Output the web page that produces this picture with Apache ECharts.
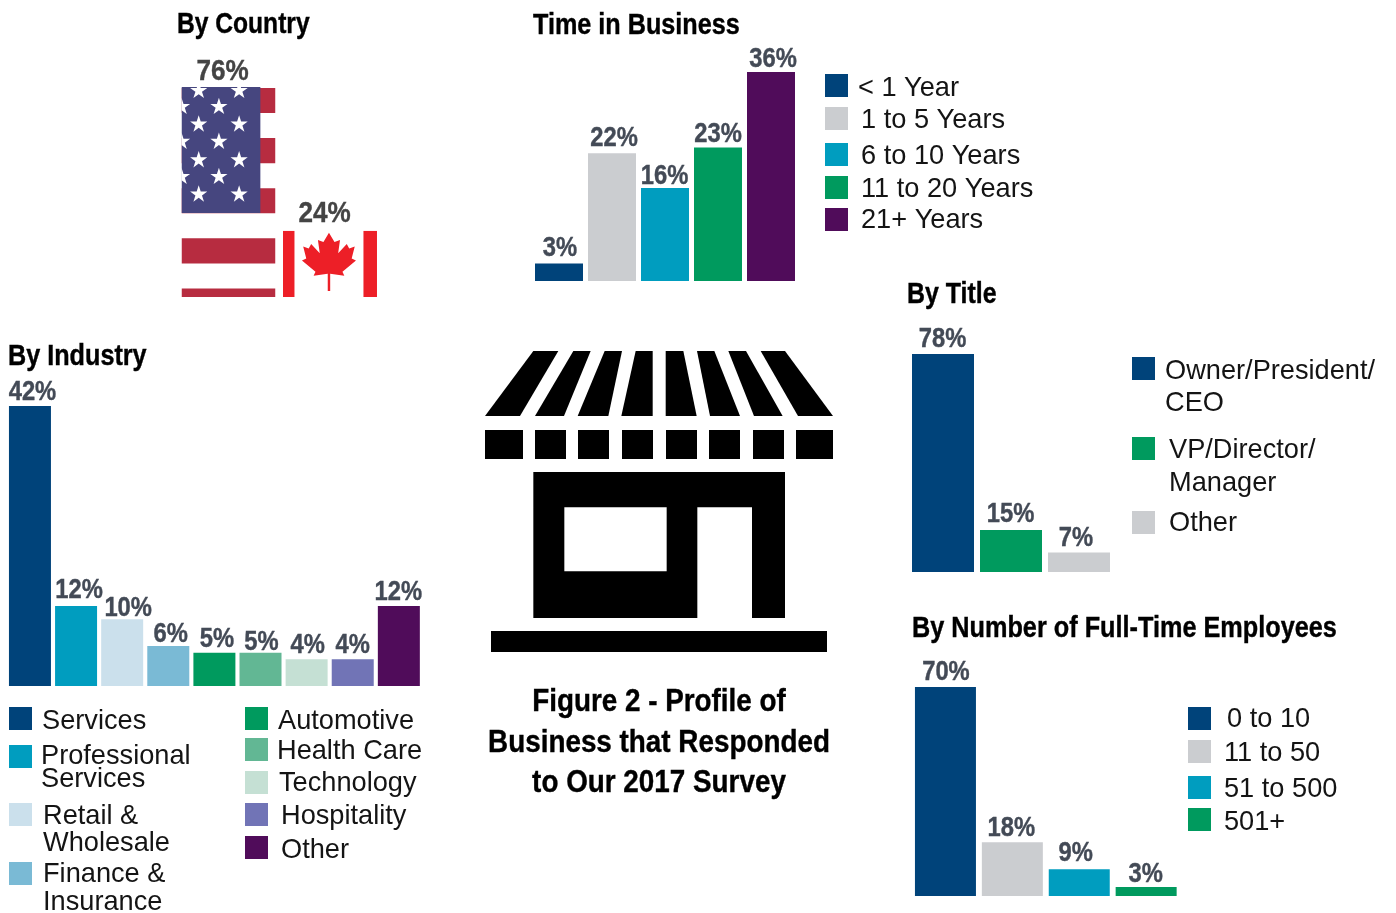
<!DOCTYPE html>
<html>
<head>
<meta charset="utf-8">
<title>Figure 2 - Profile of Business that Responded to Our 2017 Survey</title>
<style>
  html, body { margin: 0; padding: 0; background: #fff; }
  #chart { width: 1396px; height: 913px; }
</style>
<script src="https://cdn.jsdelivr.net/npm/echarts@6/dist/echarts.min.js"></script>
</head>
<body>
<div id="chart"></div>
<script>
const countryNames = ["United States", "Canada"];
const countryValues = [76, 24];

const timeNames = ["< 1 Year", "1 to 5 Years", "6 to 10 Years", "11 to 20 Years", "21+ Years"];
const timeValues = [3, 22, 16, 23, 36];

const industryNames = ["Services", "Professional\nServices", "Retail &\nWholesale", "Finance &\nInsurance",
  "Automotive", "Health Care", "Technology", "Hospitality", "Other"];
const industryValues = [42, 12, 10, 6, 5, 5, 4, 4, 12];

const titleNames = ["Owner/President/\nCEO", "VP/Director/\nManager", "Other"];
const titleValues = [78, 15, 7];

const employeeNames = ["0 to 10", "11 to 50", "51 to 500", "501+"];
const employeeValues = [70, 18, 9, 3];

const NAVY = "#00437a", TEAL = "#009dbf", GRAY = "#cbcdd0", GREEN = "#009a5e", PURPLE = "#500c5a";
const timeColors = [NAVY, GRAY, TEAL, GREEN, PURPLE];
const industryColors = [NAVY, TEAL, "#cbe0ec", "#7abad5", GREEN, "#62b794", "#c5e0d4", "#7174b6", PURPLE];
const titleColors = [NAVY, GREEN, GRAY];
const employeeColors = [NAVY, GRAY, TEAL, GREEN];

const SANS = '"Liberation Sans", Arial, sans-serif';
const LEGEND_FONT = "27.2px " + SANS;

// the labels in the source are placed by hand: dx from bar centre, dy from bar top
const countryNudge = [[-6, -15], [-5.5, -17]];
const timeNudge = [[1, -15], [2, -15], [-0.5, -12], [0, -13], [2, -12]];
const industryNudge = [[2.5, -13], [3, -15], [6, -11], [2.5, -11], [2.5, -13.6], [1, -10.6], [1, -14], [0, -14], [-0.5, -13]];
const titleNudge = [[-0.5, -14], [-0.5, -16], [-3, -14]];
const employeeNudge = [[0.5, -14], [-1, -14], [-3.5, -16], [-0.5, -12]];

// swatch x, swatch y, text x, text y (first line centre), line height
const timeLegend = [[825, 74, 858, 89], [825, 107, 861, 121], [825, 143, 861, 157], [825, 176, 861, 190], [825, 208, 861, 221]];
const industryLegend = [[9, 707, 42, 722], [9, 745, 41, 757, 23], [9, 803, 43, 817, 27], [9, 862, 43, 875, 28],
  [245, 707, 278, 722], [245, 738, 277, 752], [245, 771, 279, 784], [245, 803, 281, 817], [245, 836, 281, 851]];
const titleLegend = [[1132, 357, 1165, 372, 32], [1132, 437, 1169, 451, 33], [1132, 511, 1169, 524]];
const employeeLegend = [[1188, 707, 1227, 720], [1188, 740, 1224, 754], [1188, 776, 1224, 790], [1188, 808, 1224, 823]];

const grids = [
  { left: 177.75, width: 203, top: 87, height: 210 },
  { left: 532.5, width: 265, top: 72, height: 209 },
  { left: 6.9, width: 415, top: 406, height: 280 },
  { left: 909, width: 204, top: 354, height: 218 },
  { left: 912, width: 267.6, top: 687, height: 209 },
];
const xNames = [countryNames, timeNames, industryNames, titleNames, employeeNames];
const yMax = [76, 36, 42, 78, 70];

const barSeries = (axis, names, values, colors, barWidth) => ({
  type: "bar",
  xAxisIndex: axis,
  yAxisIndex: axis,
  barWidth,
  data: values.map((v, i) => ({ value: v, name: names[i], itemStyle: { color: colors[i] } })),
});

// no condensed bold is installed, so the value labels are squeezed text
const labelSeries = (axis, values, nudge, size, squeeze, color) => ({
  type: "custom",
  xAxisIndex: axis,
  yAxisIndex: axis,
  data: values.map((v, i) => [i, v]),
  encode: { x: 0, y: 1 },
  z: 5,
  renderItem: (params, api) => {
    const i = api.value(0);
    const p = api.coord([i, api.value(1)]);
    return {
      type: "text",
      x: p[0] + nudge[i][0],
      y: p[1] + nudge[i][1],
      scaleX: squeeze,
      style: {
        text: api.value(1) + "%",
        textAlign: "center",
        verticalAlign: "middle",
        fill: color,
        stroke: color,
        lineWidth: 0.4,
        font: "bold " + size + "px " + SANS,
      },
    };
  },
});

const starPoints = (cx, cy, r) => {
  const pts = [];
  for (let i = 0; i < 10; i++) {
    const rad = i % 2 ? r * 0.382 : r;
    const a = -Math.PI / 2 + (i * Math.PI) / 5;
    pts.push([cx + rad * Math.cos(a), cy + rad * Math.sin(a)]);
  }
  return pts;
};

const usFlag = (x, y, w, h) => {
  const kids = [{ type: "rect", shape: { x, y, width: w, height: h }, style: { fill: "#fff" } }];
  const stripe = h / 8.38;
  for (let i = 0; i < 5; i++) {
    kids.push({
      type: "rect",
      shape: { x, y: y + (i * 2 * stripe) + 1, width: w, height: stripe },
      style: { fill: "#b72c40" },
    });
  }
  const cantonW = w * 0.839, cantonH = h * 0.6;
  kids.push({ type: "rect", shape: { x, y, width: cantonW, height: cantonH }, style: { fill: "#46467f" } });
  const r = h * 0.043;
  [-0.02, 0.056, 0.14, 0.222, 0.31, 0.389, 0.473].forEach((fy, row) => {
    const cols = row % 2 ? [0, 0.398] : [0.183, 0.613];
    cols.forEach((fx) => {
      kids.push({ type: "polygon", shape: { points: starPoints(x + fx * w, y + fy * h + 8, r) }, style: { fill: "#fff" } });
    });
  });
  return kids;
};

// maple leaf outline, as fractions of the flag box
const leaf = [[.5, .03], [.59, .17], [.68, .14], [.65, .34], [.79, .2], [.83, .27], [.92, .24], [.87, .42], [.94, .45],
  [.72, .62], [.75, .68], [.52, .65], [.52, .91], [.48, .91], [.48, .65], [.25, .68], [.28, .62], [.06, .45], [.13, .42],
  [.08, .24], [.17, .27], [.21, .2], [.35, .34], [.32, .14], [.41, .17]];

const canadaFlag = (x, y, w, h) => [
  { type: "rect", shape: { x, y, width: w, height: h }, style: { fill: "#fff" } },
  { type: "rect", shape: { x, y, width: w * 0.122, height: h }, style: { fill: "#ed1f27" } },
  { type: "rect", shape: { x: x + w * 0.856, y, width: w * 0.144, height: h }, style: { fill: "#ed1f27" } },
  {
    type: "polygon",
    shape: { points: leaf.map((p) => [x + w * (0.1625 + p[0] * 0.653), y + p[1] * h]) },
    style: { fill: "#ed1f27" },
  },
];

const countrySeries = {
  type: "custom",
  xAxisIndex: 0,
  yAxisIndex: 0,
  data: countryValues.map((v, i) => [i, v]),
  encode: { x: 0, y: 1 },
  renderItem: (params, api) => {
    const top = api.coord([api.value(0), api.value(1)]);
    const base = api.coord([api.value(0), 0]);
    const w = api.size([1, 0])[0] * 0.926;
    const x = top[0] - w / 2, y = top[1], h = base[1] - top[1];
    return {
      type: "group",
      clipPath: { type: "rect", shape: { x, y, width: w, height: h } },
      children: api.value(0) === 0 ? usFlag(x, y, w, h) : canadaFlag(x, y, w, h),
    };
  },
};

const legendGraphics = (names, colors, layout) => {
  const out = [];
  names.forEach((name, i) => {
    const [sx, sy, tx, ty, lh] = layout[i];
    const lineHeight = lh || 27;
    out.push({ type: "rect", shape: { x: sx, y: sy, width: 23, height: 23 }, style: { fill: colors[i] } });
    out.push({
      type: "text",
      style: { x: tx, y: ty - lineHeight / 2, text: name, fill: "#141414", font: LEGEND_FONT, lineHeight, verticalAlign: "top" },
    });
  });
  return out;
};

// store icon, traced in the reference's 3x crop space
const sx = (x) => 470 + x / 3;
const sy = (y) => 340 + y / 3;
const shape = (pts, fill) => ({
  type: "polygon",
  shape: { points: pts.map((p) => [sx(p[0]), sy(p[1])]) },
  style: { fill: fill || "#000" },
});
const awningTop = [[190, 265], [310, 362], [404, 456], [497, 548], [587, 640], [681, 733], [775, 828], [872, 945]];
const awningBottom = [[45, 150], [195, 282], [323, 415], [454, 548], [587, 680], [720, 810], [852, 938], [984, 1089]];
const valance = [[45, 159], [195, 288], [324, 417], [456, 549], [588, 681], [717, 810], [849, 942], [978, 1089]];
const box = (x0, y0, x1, y1, fill) => shape([[x0, y0], [x1, y0], [x1, y1], [x0, y1]], fill);
const storeIcon = [
  ...awningTop.map((t, i) => shape([[t[0], 33], [t[1], 33], [awningBottom[i][1], 228], [awningBottom[i][0], 228]])),
  ...valance.map((v) => box(v[0], 270, v[1], 357)),
  shape([[190, 396], [945, 396], [945, 834], [846, 834], [846, 502], [682, 502], [682, 834], [190, 834]]),
  box(283, 502, 590, 694, "#fff"),
  box(63, 873, 1071, 936),
];

// text, left, centre y, squeeze
const heads = [
  ["By Country", 177, 25, 0.82],
  ["Time in Business", 533, 26, 0.84],
  ["By Industry", 8, 357, 0.84],
  ["By Title", 907, 295, 0.83],
  ["By Number of Full-Time Employees", 912, 629, 0.842],
];
const headGraphics = heads.map((h) => ({
  type: "text",
  x: h[1],
  y: h[2],
  scaleX: h[3],
  style: { text: h[0], verticalAlign: "middle", fill: "#000", stroke: "#000", lineWidth: 0.4, font: "bold 30px " + SANS },
}));

const chart = echarts.init(document.getElementById("chart"));
chart.setOption({
  animation: false,
  backgroundColor: "#fff",
  grid: grids,
  xAxis: xNames.map((names, i) => ({ type: "category", gridIndex: i, data: names, show: false })),
  yAxis: yMax.map((max, i) => ({ type: "value", gridIndex: i, min: 0, max, show: false })),
  series: [
    countrySeries,
    barSeries(1, timeNames, timeValues, timeColors, 48),
    barSeries(2, industryNames, industryValues, industryColors, 42),
    barSeries(3, titleNames, titleValues, titleColors, 62),
    barSeries(4, employeeNames, employeeValues, employeeColors, 61),
    labelSeries(0, countryValues, countryNudge, 30, 0.87, "#444444"),
    labelSeries(1, timeValues, timeNudge, 27, 0.88, "#434a56"),
    labelSeries(2, industryValues, industryNudge, 27, 0.88, "#434a56"),
    labelSeries(3, titleValues, titleNudge, 27, 0.88, "#434a56"),
    labelSeries(4, employeeValues, employeeNudge, 27, 0.88, "#434a56"),
  ],
  graphic: [
    ...headGraphics,
    ...legendGraphics(timeNames, timeColors, timeLegend),
    ...legendGraphics(industryNames, industryColors, industryLegend),
    ...legendGraphics(titleNames, titleColors, titleLegend),
    ...legendGraphics(employeeNames, employeeColors, employeeLegend),
    ...storeIcon,
    {
      type: "text",
      x: 659,
      y: 743,
      scaleX: 0.87,
      style: {
        text: "Figure 2 - Profile of\nBusiness that Responded\nto Our 2017 Survey",
        textAlign: "center",
        verticalAlign: "middle",
        fill: "#000",
        stroke: "#000",
        lineWidth: 0.4,
        font: "bold 32px " + SANS,
        lineHeight: 40.5,
      },
    },
  ],
});
</script>
</body>
</html>
